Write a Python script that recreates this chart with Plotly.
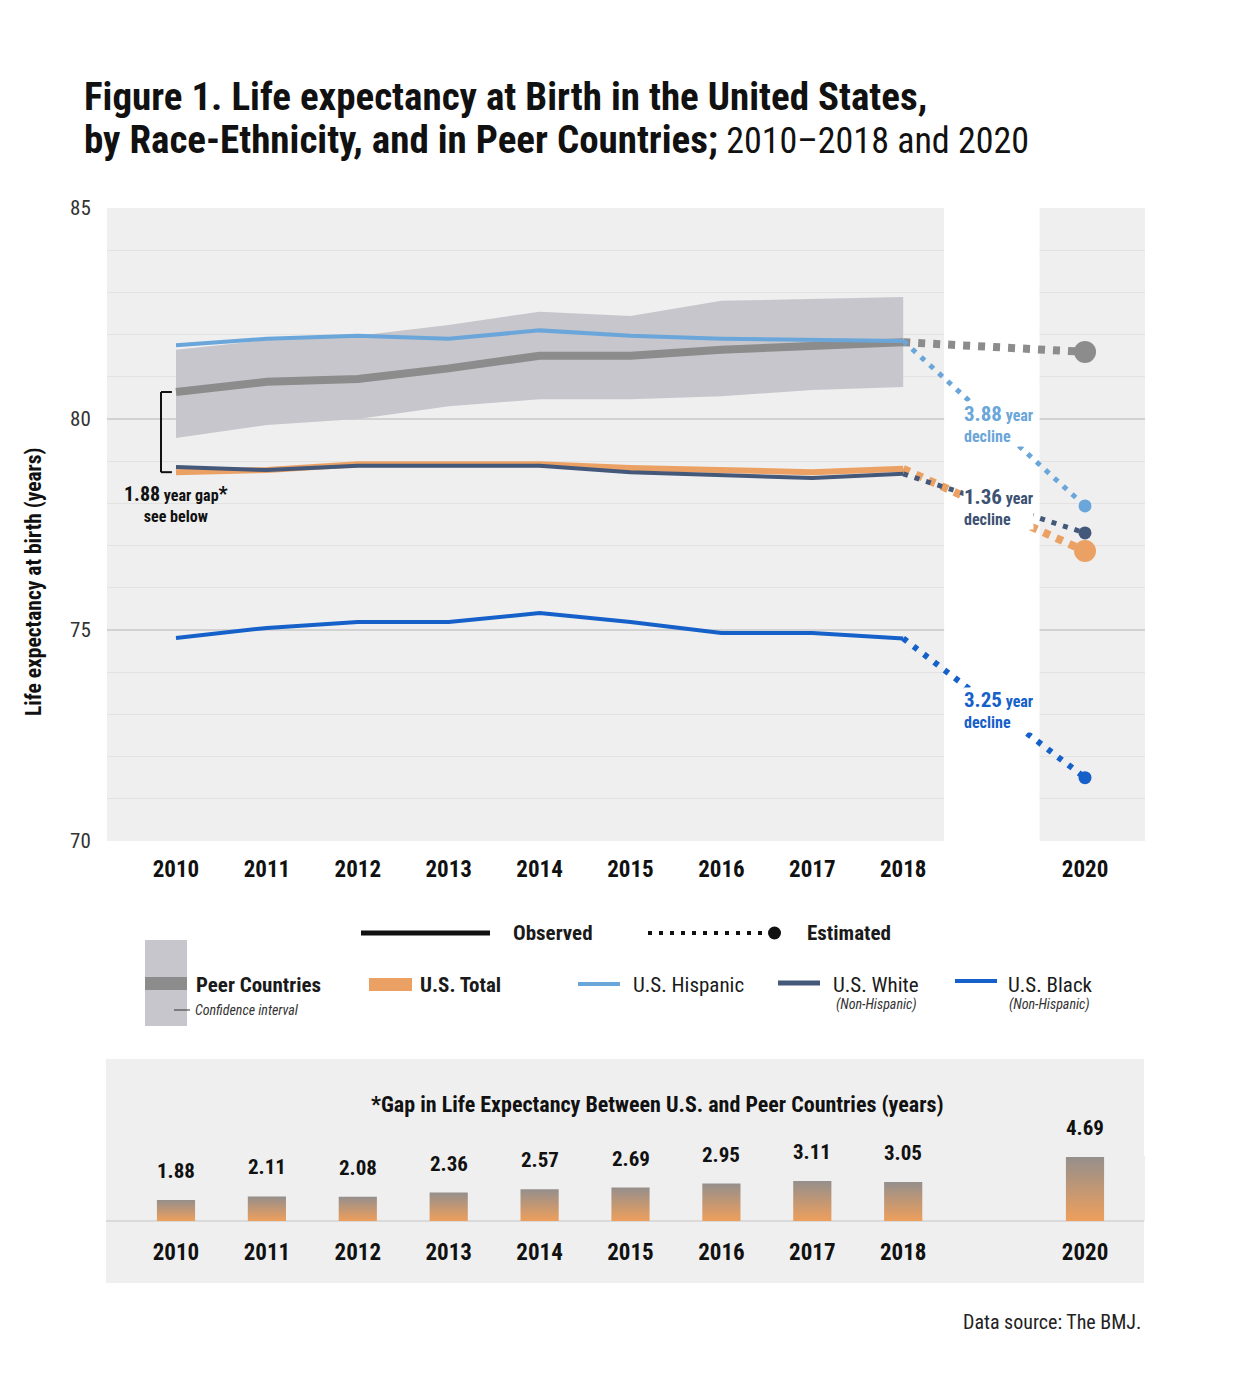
import plotly.graph_objects as go

# ---------------- data ----------------
years_obs = [2010, 2011, 2012, 2013, 2014, 2015, 2016, 2017, 2018]
year_est = 2020

peer = [80.64, 80.88, 80.95, 81.20, 81.50, 81.50, 81.64, 81.75, 81.82]
peer_ci_upper = [81.64, 81.87, 81.97, 82.23, 82.54, 82.44, 82.80, 82.84, 82.89]
peer_ci_lower = [79.55, 79.86, 80.00, 80.30, 80.47, 80.47, 80.54, 80.69, 80.76]
hispanic = [81.75, 81.90, 81.97, 81.90, 82.10, 81.97, 81.90, 81.87, 81.85]
us_total = [78.74, 78.79, 78.93, 78.93, 78.93, 78.84, 78.79, 78.74, 78.82]
white = [78.86, 78.79, 78.89, 78.89, 78.89, 78.74, 78.67, 78.60, 78.70]
black = [74.81, 75.05, 75.19, 75.19, 75.40, 75.19, 74.93, 74.93, 74.80]

peer_2020 = 81.59
hispanic_2020 = 77.94
us_total_2020 = 76.87
white_2020 = 77.30
black_2020 = 71.50

gap_years = [2010, 2011, 2012, 2013, 2014, 2015, 2016, 2017, 2018, 2020]
gap_values = [1.88, 2.11, 2.08, 2.36, 2.57, 2.69, 2.95, 3.11, 3.05, 4.69]
gap_labels = ["1.88", "2.11", "2.08", "2.36", "2.57", "2.69", "2.95", "3.11", "3.05", "4.69"]

x_ticks = [2010, 2011, 2012, 2013, 2014, 2015, 2016, 2017, 2018, 2020]
y_ticks = [70, 75, 80, 85]

# ---------------- style ----------------
W, H = 1240, 1395
OX, OY = 8, 8  # page offset of the figure inside the browser window
FONT = "'Roboto Condensed', 'Liberation Sans Narrow', 'Arial Narrow', 'DejaVu Sans Condensed', Roboto, sans-serif"
TXT = "#1a1a1a"
BG = "#efefef"
C_CI = "#c6c6cc"
C_PEER = "#8c8c8c"
C_HISP = "#6aa6d9"
C_TOT = "#eba163"
C_WHITE = "#44587a"
C_BLACK = "#1660c9"


def px(x):
    return (x - OX) / W


def py(y):
    return 1 - (y - OY) / H


fig = go.Figure()

# CI band
fig.add_trace(go.Scatter(x=years_obs, y=peer_ci_upper, mode="lines",
                         line=dict(width=0), hoverinfo="skip"))
fig.add_trace(go.Scatter(x=years_obs, y=peer_ci_lower, mode="lines", fill="tonexty",
                         fillcolor=C_CI, line=dict(width=0), hoverinfo="skip"))

# estimated dotted segments
est = [
    (peer, peer_2020, C_PEER, 8, "7px,8px", 22),
    (hispanic, hispanic_2020, C_HISP, 5, "5px,7px", 13),
    (us_total, us_total_2020, C_TOT, 8, "7px,7px", 22),
    (white, white_2020, C_WHITE, 5, "5px,7px", 13),
    (black, black_2020, C_BLACK, 6, "5px,8px", 13),
]
for series, v20, col, w, dash, msize in est:
    fig.add_trace(go.Scatter(x=[years_obs[-1], year_est], y=[series[-1], v20], mode="lines",
                             line=dict(color=col, width=w, dash=dash)))
    fig.add_trace(go.Scatter(x=[year_est], y=[v20], mode="markers",
                             marker=dict(color=col, size=msize)))

# observed lines
fig.add_trace(go.Scatter(x=years_obs, y=peer, mode="lines", line=dict(color=C_PEER, width=8)))
fig.add_trace(go.Scatter(x=years_obs, y=hispanic, mode="lines", line=dict(color=C_HISP, width=4)))
fig.add_trace(go.Scatter(x=years_obs, y=us_total, mode="lines", line=dict(color=C_TOT, width=6)))
fig.add_trace(go.Scatter(x=years_obs, y=white, mode="lines", line=dict(color=C_WHITE, width=4)))
fig.add_trace(go.Scatter(x=years_obs, y=black, mode="lines", line=dict(color=C_BLACK, width=4)))

# gap bars (gradient), one polygon per bar
BASE = 0.5
HW = 0.21
for yr, v in zip(gap_years, gap_values):
    fig.add_trace(go.Scatter(
        x=[yr - HW, yr + HW, yr + HW, yr - HW, yr - HW],
        y=[BASE, BASE, v, v, BASE],
        mode="lines", line=dict(width=0), fill="toself",
        fillcolor="#c49a7a",
        fillgradient=dict(type="vertical",
                          colorscale=[[0, "#ee9f5c"], [1, "#958f8c"]]),
        xaxis="x2", yaxis="y2", hoverinfo="skip"))

shapes = []
annotations = []

# white gap column at 2019
shapes.append(dict(type="rect", xref="x", yref="y", x0=2018.45, x1=2019.5, y0=70, y1=85,
                   fillcolor="white", line=dict(width=0), layer="between"))

# bottom panel background and baseline
shapes.append(dict(type="rect", xref="paper", yref="paper", x0=px(106), x1=px(1144),
                   y0=py(1283), y1=py(1059), fillcolor=BG, line=dict(width=0), layer="below"))
shapes.append(dict(type="line", xref="paper", yref="paper", x0=px(106), x1=px(1144),
                   y0=py(1221), y1=py(1221), line=dict(color="#dadada", width=2), layer="below"))

# bracket for gap
bx0, bx1 = 2009.835, 2009.955
for yv in (peer[0], us_total[0]):
    shapes.append(dict(type="line", xref="x", yref="y", x0=bx0, x1=bx1, y0=yv, y1=yv,
                       line=dict(color="#111", width=2)))
shapes.append(dict(type="line", xref="x", yref="y", x0=bx0, x1=bx0, y0=us_total[0], y1=peer[0],
                   line=dict(color="#111", width=2)))

# ---------------- legend ----------------
shapes.append(dict(type="line", xref="paper", yref="paper", x0=px(361), x1=px(490),
                   y0=py(933), y1=py(933), line=dict(color="#111", width=5)))
shapes.append(dict(type="line", xref="paper", yref="paper", x0=px(648), x1=px(766),
                   y0=py(933), y1=py(933), line=dict(color="#111", width=4, dash="4px,7px")))
shapes.append(dict(type="circle", xref="paper", yref="paper", x0=px(768), x1=px(781),
                   y0=py(939.5), y1=py(926.5), fillcolor="#111", line=dict(width=0)))
annotations.append(dict(text="<b>Observed</b>", x=px(511), y=py(933), xref="paper", yref="paper",
                        xanchor="left", yanchor="middle", showarrow=False,
                        font=dict(size=21, color=TXT, family=FONT)))
annotations.append(dict(text="<b>Estimated</b>", x=px(805), y=py(933), xref="paper", yref="paper",
                        xanchor="left", yanchor="middle", showarrow=False,
                        font=dict(size=21, color=TXT, family=FONT)))

# peer countries
shapes.append(dict(type="rect", xref="paper", yref="paper", x0=px(145), x1=px(187),
                   y0=py(1026), y1=py(940), fillcolor=C_CI, line=dict(width=0)))
shapes.append(dict(type="rect", xref="paper", yref="paper", x0=px(145), x1=px(187),
                   y0=py(990), y1=py(977), fillcolor=C_PEER, line=dict(width=0)))
shapes.append(dict(type="line", xref="paper", yref="paper", x0=px(174), x1=px(190),
                   y0=py(1010), y1=py(1010), line=dict(color="#333", width=1)))
annotations.append(dict(text="<b>Peer Countries</b>", x=px(194), y=py(985), xref="paper", yref="paper",
                        xanchor="left", yanchor="middle", showarrow=False,
                        font=dict(size=21, color=TXT, family=FONT)))
annotations.append(dict(text="<i>Confidence interval</i>", x=px(193), y=py(1010), xref="paper",
                        yref="paper", xanchor="left", yanchor="middle", showarrow=False,
                        font=dict(size=14, color="#333", family=FONT)))

# US total
shapes.append(dict(type="rect", xref="paper", yref="paper", x0=px(369), x1=px(412),
                   y0=py(991), y1=py(978), fillcolor=C_TOT, line=dict(width=0)))
annotations.append(dict(text="<b>U.S. Total</b>", x=px(418), y=py(985), xref="paper", yref="paper",
                        xanchor="left", yanchor="middle", showarrow=False,
                        font=dict(size=21, color=TXT, family=FONT)))

# hispanic / white / black
for (x0, x1, yl, col, lw, label, tx, sub, subx) in [
    (578, 620, 984, C_HISP, 4, "U.S. Hispanic", 631, None, None),
    (778, 820, 983, C_WHITE, 5, "U.S. White", 831, "(Non-Hispanic)", 876),
    (955, 997, 981, C_BLACK, 4, "U.S. Black", 1006, "(Non-Hispanic)", 1049),
]:
    shapes.append(dict(type="line", xref="paper", yref="paper", x0=px(x0), x1=px(x1),
                       y0=py(yl), y1=py(yl), line=dict(color=col, width=lw)))
    annotations.append(dict(text=label, x=px(tx), y=py(985), xref="paper", yref="paper",
                            xanchor="left", yanchor="middle", showarrow=False,
                            font=dict(size=21, color=TXT, family=FONT)))
    if sub:
        annotations.append(dict(text="<i>" + sub + "</i>", x=px(subx), y=py(1005), xref="paper",
                                yref="paper", xanchor="center", yanchor="middle", showarrow=False,
                                font=dict(size=14, color="#333", family=FONT)))

# ---------------- annotations ----------------
annotations.append(dict(text="<b>Figure 1. Life expectancy at Birth in the United States,</b>",
                        x=px(82), y=py(97), xref="paper", yref="paper", xanchor="left",
                        yanchor="middle", showarrow=False,
                        font=dict(size=39, color="#111", family=FONT)))
annotations.append(dict(text="<b>by Race-Ethnicity, and in Peer Countries;</b><span style='font-size:36px'> 2010–2018 and 2020</span>",
                        x=px(82), y=py(140), xref="paper", yref="paper", xanchor="left",
                        yanchor="middle", showarrow=False,
                        font=dict(size=39, color="#111", family=FONT)))

annotations.append(dict(text="<b>Life expectancy at birth (years)</b>", x=px(33), y=py(582),
                        xref="paper", yref="paper", textangle=-90, xanchor="center",
                        yanchor="middle", showarrow=False,
                        font=dict(size=21.5, color="#111", family=FONT)))

annotations.append(dict(text="<b><span style='font-size:20px'>1.88</span> year gap<span style='font-size:20px'>*</span></b><br><b>see below</b>",
                        x=2010.0, y=77.98, xref="x", yref="y", xanchor="center", yanchor="middle",
                        showarrow=False, align="center",
                        font=dict(size=16, color="#111", family=FONT)))

for num, col, yc in [("3.88", C_HISP, 79.88), ("1.36", "#3d5273", 77.91), ("3.25", C_BLACK, 73.10)]:
    annotations.append(dict(text="<b><span style='font-size:21px'>" + num + "</span> year<br>decline</b>",
                            x=2018.655, y=yc, xref="x", yref="y", xanchor="left", yanchor="middle",
                            showarrow=False, align="left", bgcolor="white", borderpad=0,
                            font=dict(size=16, color=col, family=FONT)))

annotations.append(dict(text="<b>*Gap in Life Expectancy Between U.S. and Peer Countries (years)</b>",
                        x=px(657), y=py(1104), xref="paper", yref="paper", xanchor="center",
                        yanchor="middle", showarrow=False,
                        font=dict(size=22, color="#111", family=FONT)))

for yr, v, lab in zip(gap_years, gap_values, gap_labels):
    annotations.append(dict(text="<b>" + lab + "</b>", x=yr, y=v, xref="x2", yref="y2",
                            xanchor="center", yanchor="bottom", yshift=15, showarrow=False,
                            font=dict(size=21, color="#111", family=FONT)))

annotations.append(dict(text="Data source: The BMJ.", x=px(1143), y=py(1322), xref="paper",
                        yref="paper", xanchor="right", yanchor="middle", showarrow=False,
                        font=dict(size=20, color="#222", family=FONT)))

# ---------------- layout ----------------
XR = [2009.241, 2020.66]
fig.update_layout(
    width=W, height=H,
    margin=dict(l=0, r=0, t=0, b=0, autoexpand=False),
    paper_bgcolor="white",
    plot_bgcolor=BG,
    showlegend=False,
    font=dict(family=FONT, color=TXT),
    xaxis=dict(domain=[px(107), px(1145)], range=XR, anchor="y", automargin=False,
               tickvals=x_ticks, ticktext=["<b>%d</b>" % t for t in x_ticks],
               showgrid=False, zeroline=False, showline=False,
               ticks="outside", ticklen=7, tickcolor="rgba(0,0,0,0)",
               tickfont=dict(size=23, color="#111", family=FONT)),
    yaxis=dict(domain=[py(841), py(208)], range=[70, 85], anchor="x", automargin=False,
               tickvals=y_ticks, showgrid=True, gridcolor="#d2d2d2", gridwidth=2,
               zeroline=False, showline=False,
               ticks="outside", ticklen=11, tickcolor="rgba(0,0,0,0)",
               tickfont=dict(size=21, color="#333", family=FONT),
               minor=dict(dtick=1, showgrid=True, gridcolor="#e2e2e2", gridwidth=1)),
    xaxis2=dict(domain=[px(107), px(1145)], range=XR, anchor="y2", automargin=False,
                tickvals=x_ticks, ticktext=["<b>%d</b>" % t for t in x_ticks],
                showgrid=False, zeroline=False, showline=False,
                ticks="outside", ticklen=10, tickcolor="rgba(0,0,0,0)",
                tickfont=dict(size=23, color="#111", family=FONT)),
    yaxis2=dict(domain=[py(1221), py(1156)], range=[BASE, 4.75], anchor="x2", automargin=False,
                visible=False, showgrid=False, zeroline=False),
    shapes=shapes,
    annotations=annotations,
)

fig.write_html("out.html")
